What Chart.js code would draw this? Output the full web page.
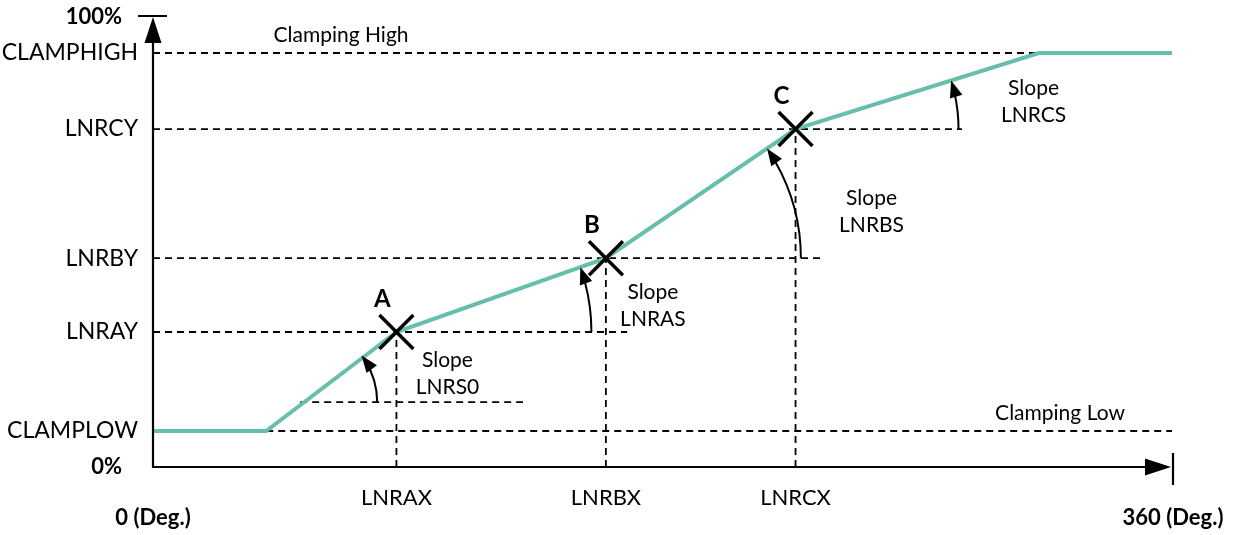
<!DOCTYPE html>
<html>
<head>
<meta charset="utf-8">
<script src="https://cdn.jsdelivr.net/npm/chart.js@4"></script>
<style>
  body { margin: 0; background: #fff; }
  #wrap { width: 1241px; height: 535px; position: relative; }
</style>
</head>
<body>
<div id="wrap"><canvas id="grafico"></canvas></div>
<script>
// curva de saída (graus -> %)
const curveX = [0, 40, 86, 160, 227, 313, 360];
const curveY = [8, 8, 30, 46.4, 75.1, 92, 92];

// níveis do eixo Y
const levelNames = ["CLAMPLOW", "LNRAY", "LNRBY", "LNRCY", "CLAMPHIGH"];
const levelValues = [8, 30, 46.4, 75.1, 92];
const levelStartX = [40, 0, 0, 0, 0];
const levelEndX = [360, 167.5, 237.4, 285.8, 313];

// pontos de quebra
const pointNames = ["A", "B", "C"];
const pointX = [86, 160, 227];
const pointY = [30, 46.4, 75.1];
const xTickNames = ["LNRAX", "LNRBX", "LNRCX"];

// inclinações (vértice de cada arco + segmento da curva)
const slopeNames = ["LNRS0", "LNRAS", "LNRBS", "LNRCS"];
const slopeBaseX = [52, 86, 160, 227];
const slopeBaseY = [14.4, 30, 46.4, 75.1];
const slopeSegment = [1, 2, 3, 4];
const slope0GuideEnd = 130.7;

const FONT = "Lato, 'Open Sans', sans-serif";
const TEAL = "#67BFAB";

function guide(x1, y1, x2, y2) {
  return {
    data: [{ x: x1, y: y1 }, { x: x2, y: y2 }],
    borderColor: "#000",
    borderWidth: 1.8,
    borderDash: [7, 5],
    pointRadius: 0,
    order: 2
  };
}

const datasets = [{
  data: curveX.map((x, i) => ({ x, y: curveY[i] })),
  borderColor: TEAL,
  borderWidth: 4,
  pointRadius: 0,
  tension: 0,
  order: 1
}, {
  data: pointX.map((x, i) => ({ x, y: pointY[i] })),
  showLine: false,
  pointStyle: "crossRot",
  pointRadius: 24,
  borderColor: "#000",
  borderWidth: 3.5,
  order: 0
}];

levelValues.forEach((v, i) => datasets.push(guide(levelStartX[i], v, levelEndX[i], v)));
pointX.forEach((x, i) => datasets.push(guide(x, 0, x, pointY[i])));
datasets.push(guide(slopeBaseX[0], slopeBaseY[0], slope0GuideEnd, slopeBaseY[0]));

// posições de textos (px relativos)
const slopeTextOffset = [[51, 28], [47, 34], [76, 69], [238, -41]];
const slopeTextAnchor = [2, 3, 4, 4];
const slopeRadius = [77, 195, 195, 163];

function arrowHead(ctx, x, y, ang, len, w) {
  ctx.save();
  ctx.translate(x, y);
  ctx.rotate(ang);
  ctx.beginPath();
  ctx.moveTo(0, 0);
  ctx.lineTo(-len, -w / 2);
  ctx.lineTo(-len, w / 2);
  ctx.closePath();
  ctx.fill();
  ctx.restore();
}

const desenho = {
  id: "desenho",
  afterDraw(chart) {
    const ctx = chart.ctx;
    const sx = chart.scales.x, sy = chart.scales.y;
    const x0 = sx.getPixelForValue(0), y0 = sy.getPixelForValue(0);
    const xEnd = sx.getPixelForValue(360), yTop = sy.getPixelForValue(100);
    ctx.save();
    ctx.strokeStyle = "#000";
    ctx.fillStyle = "#000";
    ctx.lineWidth = 2.2;

    // eixos
    ctx.beginPath();
    ctx.moveTo(x0, y0 + 1); ctx.lineTo(x0, yTop + 10);
    ctx.moveTo(x0, y0); ctx.lineTo(xEnd - 10, y0);
    ctx.moveTo(x0 - 15, yTop - 1); ctx.lineTo(x0 + 14, yTop - 1);
    ctx.moveTo(xEnd + 1, y0 - 14); ctx.lineTo(xEnd + 1, y0 + 18);
    ctx.stroke();
    arrowHead(ctx, x0, yTop, -Math.PI / 2, 26, 17);
    arrowHead(ctx, xEnd - 1, y0, 0, 26, 17);

    // rótulos do eixo Y
    ctx.textBaseline = "middle";
    ctx.textAlign = "right";
    ctx.font = "23px " + FONT;
    levelNames.forEach((n, i) => ctx.fillText(n, x0 - 15, sy.getPixelForValue(levelValues[i])));
    ctx.font = "bold 22px " + FONT;
    ctx.fillText("100%", x0 - 31, yTop);
    ctx.fillText("0%", x0 - 31, y0);

    // rótulos do eixo X
    ctx.textAlign = "center";
    ctx.font = "22px " + FONT;
    xTickNames.forEach((n, i) => ctx.fillText(n, sx.getPixelForValue(pointX[i]), y0 + 31));
    ctx.font = "bold 22px " + FONT;
    ctx.fillText("0 (Deg.)", x0, y0 + 51);
    ctx.fillText("360 (Deg.)", xEnd + 1, y0 + 51);

    // A, B, C
    ctx.font = "bold 24px " + FONT;
    pointNames.forEach((n, i) => {
      ctx.fillText(n, sx.getPixelForValue(pointX[i]) - 14, sy.getPixelForValue(pointY[i]) - 33);
    });

    // textos de clamping
    ctx.font = "21px " + FONT;
    ctx.fillText("Clamping High", x0 + 188, sy.getPixelForValue(levelValues[4]) - 18);
    ctx.fillText("Clamping Low", xEnd - 112, sy.getPixelForValue(levelValues[0]) - 18);

    // arcos de inclinação
    ctx.lineWidth = 2;
    slopeNames.forEach((n, i) => {
      const cx = sx.getPixelForValue(slopeBaseX[i]), cy = sy.getPixelForValue(slopeBaseY[i]);
      const s = slopeSegment[i];
      const ax = sx.getPixelForValue(curveX[s]), ay = sy.getPixelForValue(curveY[s]);
      const bx = sx.getPixelForValue(curveX[s + 1]), by = sy.getPixelForValue(curveY[s + 1]);
      const ang = Math.atan2(by - ay, bx - ax);
      const r = slopeRadius[i];
      ctx.beginPath();
      ctx.arc(cx, cy, r, 0, ang + 0.08, true);
      ctx.stroke();
      const tx = cx + r * Math.cos(ang), ty = cy + r * Math.sin(ang);
      arrowHead(ctx, tx, ty, ang - Math.PI / 2, 17, 13);

      const a = slopeTextAnchor[i];
      const px = sx.getPixelForValue(curveX[a]) + slopeTextOffset[i][0];
      const py = sy.getPixelForValue(curveY[a]) + slopeTextOffset[i][1];
      ctx.font = "21px " + FONT;
      ctx.fillText("Slope", px, py);
      ctx.fillText(n, px, py + 27);
    });
    ctx.restore();
  }
};

new Chart(document.getElementById("grafico"), {
  type: "line",
  data: { datasets },
  options: {
    responsive: true,
    maintainAspectRatio: false,
    animation: false,
    layout: { autoPadding: false, padding: { left: 153, right: 69, top: 17, bottom: 68 } },
    scales: {
      x: { type: "linear", min: 0, max: 360, display: false },
      y: { min: 0, max: 100, display: false }
    },
    plugins: { legend: { display: false }, tooltip: { enabled: false } }
  },
  plugins: [desenho]
});
</script>
</body>
</html>
